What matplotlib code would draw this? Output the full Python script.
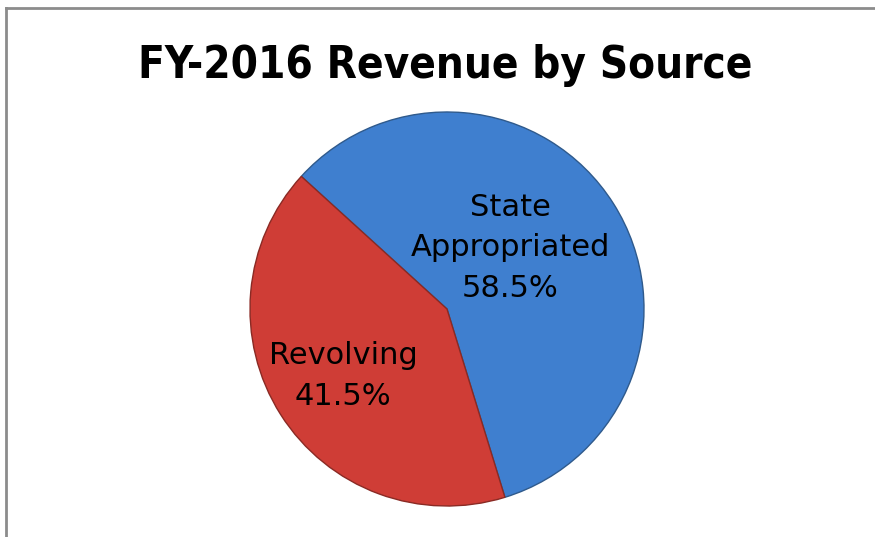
import matplotlib.pyplot as plt
from matplotlib.lines import Line2D

# data
sources = ["State\nAppropriated", "Revolving"]
shares = [58.5, 41.5]
colors = ["#3f7fcf", "#cf3d36"]

fig = plt.figure(figsize=(8.75, 5.37), dpi=100)
ax = fig.add_axes([0, 0, 1, 1])

# pie (state wedge starts at the lower boundary and runs counterclockwise)
wedges, _ = ax.pie(shares, colors=colors, startangle=-72.9, center=(447, 228),
                   radius=197, frame=True,
                   wedgeprops=dict(edgecolor="#2f5a8c", linewidth=1.0))
wedges[1].set_edgecolor("#8a2a24")
ax.set_xlim(0, 875)
ax.set_ylim(0, 537)
ax.axis("off")

ax.text(445, 459, "FY-2016 Revenue by Source", ha="center", va="baseline",
        fontsize=31.5, fontweight="bold", family="DejaVu Sans",
        fontstretch="condensed")

label_pos = [(510, 289), (343, 161)]
for name, val, (x, y) in zip(sources, shares, label_pos):
    ax.text(x, y, f"{name}\n{val}%", ha="center", va="center",
            fontsize=22, family="DejaVu Sans", linespacing=1.5)

# chart frame
fig.add_artist(Line2D([6 / 875, 6 / 875], [0, 1 - 8 / 537], transform=fig.transFigure,
                      color="#8c8c8c", lw=2))
fig.add_artist(Line2D([6 / 875, 1], [1 - 8 / 537, 1 - 8 / 537], transform=fig.transFigure,
                      color="#8c8c8c", lw=2))

fig.savefig("out.png", dpi=100)
